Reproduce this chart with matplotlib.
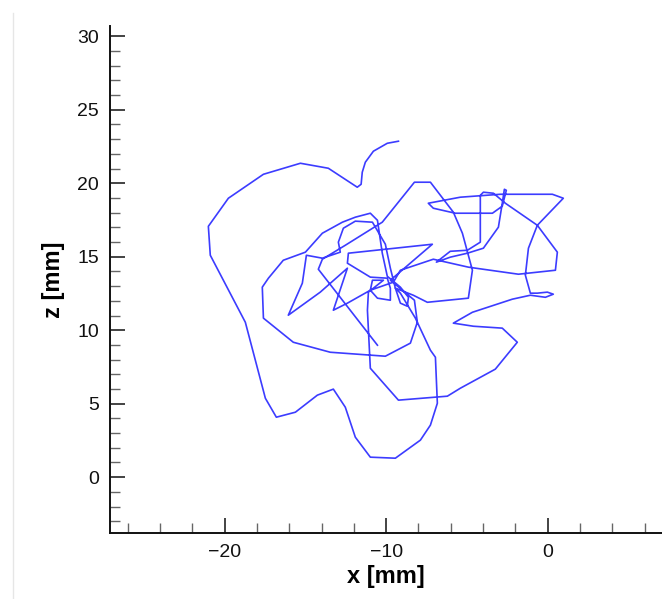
import matplotlib
matplotlib.use("Agg")
import matplotlib.pyplot as plt
from matplotlib.ticker import MultipleLocator
from matplotlib.lines import Line2D

plt.rcParams['font.family'] = ['Liberation Sans', 'DejaVu Sans']

# trajectory (x [mm], z [mm]), in drawing order
x_mm = [-9.24, -9.93, -10.79, -11.29, -11.48, -11.55, -11.79, -13.58, -15.31, -17.60,
        -19.77, -21.01, -20.89, -18.72, -17.48, -16.80, -15.62, -14.26, -13.27, -12.53,
        -11.91, -10.98, -9.43, -7.88, -7.26, -6.83, -6.95, -7.26, -8.19, -9.12,
        -9.43, -9.12, -8.69, -8.62, -9.12, -9.93,
        -10.24, -10.54, -10.98, -11.91, -12.71, -13.95, -15.00,
        -16.37, -17.29, -17.67, -17.60, -15.75, -13.46, -10.05, -8.50, -8.07, -8.25, -9.74,
        -7.14, -12.34, -12.40, -10.98, -9.93,
        -9.74, -9.74, -10.54, -10.98, -10.85, -10.17,
        -11.10, -11.16, -10.98, -9.24, -6.21, -5.41, -3.24, -1.88, -2.81, -4.60, -5.84,
        -4.66, -2.19, -1.07, -0.14, 0.35, -0.02, -0.64, -1.07, -1.38, -1.19, -0.64, 0.97,
        0.29, -2.93, -5.41, -7.39, -7.08, -5.72, -3.42, -2.81, -2.56, -2.68, -2.81, -3.05,
        -3.98, -4.97, -6.03, -6.89, -6.03, -4.97, -4.17, -4.17, -3.98, -3.36, -2.62, -0.64,
        0.60, 0.48, -1.81, -4.91, -7.08, -9.12,
        -9.55, -10.98, -12.40, -13.27, -12.40, -14.08, -16.06, -15.19, -14.94,
        -13.95, -12.84, -12.96, -12.65, -11.91, -10.85, -10.05, -9.74, -9.43,
        -8.32, -7.45, -4.91, -4.66, -5.28, -5.84, -7.26, -8.25, -10.24, -12.53, -13.95,
        -14.20, -10.54]
z_mm = [22.86, 22.72, 22.18, 21.43, 20.75, 19.93, 19.73, 21.02, 21.36, 20.61,
        18.98, 17.07, 15.10, 10.54, 5.37, 4.08, 4.42, 5.58, 5.99, 4.76,
        2.72, 1.36, 1.29, 2.52, 3.54, 5.03, 8.16, 8.64, 10.82, 12.52,
        12.86, 11.84, 11.63, 12.24, 12.93, 13.67,
        15.24, 17.48, 17.96, 17.69, 17.35, 16.60, 15.31,
        14.76, 13.54, 12.93, 10.82, 9.18, 8.50, 8.23, 9.12, 10.54, 12.04, 13.40,
        15.85, 15.24, 14.56, 13.61, 13.54,
        12.86, 12.04, 12.18, 12.72, 13.40, 13.40,
        12.59, 11.36, 7.41, 5.24, 5.51, 6.05, 7.35, 9.18, 10.14, 10.27, 10.48,
        11.22, 12.11, 12.38, 12.24, 12.45, 12.59, 12.52, 12.52, 13.74, 15.58, 17.14, 18.98,
        19.25, 19.25, 19.05, 18.64, 18.30, 17.96, 17.96, 18.44, 19.52, 19.59, 18.64, 17.01,
        15.58, 15.24, 14.97, 14.63, 15.37, 15.44, 15.99, 19.18, 19.39, 19.32, 18.64, 17.14,
        15.31, 14.08, 13.81, 14.29, 14.83, 14.08,
        13.27, 12.72, 11.84, 11.36, 14.22, 12.59, 11.02, 13.20, 15.10,
        14.90, 15.31, 15.99, 16.94, 17.42, 17.35, 15.85, 14.22, 12.86,
        12.38, 11.90, 12.18, 14.08, 16.60, 18.03, 20.07, 20.07, 17.35, 15.78, 14.83,
        14.15, 8.98]

x_major = [-20, -10, 0]
y_major = [0, 5, 10, 15, 20, 25, 30]

fig = plt.figure(figsize=(6.62, 5.99), dpi=100)
ax = fig.add_axes([110 / 662, 1 - 533 / 599, 552 / 662, 507 / 599])
ax.plot(x_mm, z_mm, color='#3c3cff', lw=1.2)

ax.set_xlim(-27.1, 7.08)
ax.set_ylim(-3.8, 30.7)
ax.set_xticks(x_major)
ax.set_yticks(y_major)
ax.xaxis.set_minor_locator(MultipleLocator(2))
ax.yaxis.set_minor_locator(MultipleLocator(1))
ax.tick_params(which='major', direction='in', length=11, width=1.1, labelsize=14, pad=8, colors='#111111')
ax.tick_params(which='minor', direction='in', length=7, width=1.0, color='#666666')
for s in ['top', 'right']:
    ax.spines[s].set_visible(False)
for s in ['left', 'bottom']:
    ax.spines[s].set_linewidth(1.4)
    ax.spines[s].set_color('#111111')

ax.set_xlabel('x [mm]', fontsize=17, fontweight='bold')
ax.set_ylabel('z [mm]', fontsize=17, fontweight='bold')
ax.xaxis.set_label_coords(0.5, -0.063)
ax.yaxis.set_label_coords(-0.081, 0.5)

fig.add_artist(Line2D([12.5 / 662, 12.5 / 662], [0, 1 - 13 / 599], transform=fig.transFigure,
                      color='#e6e6e6', lw=1.0))

fig.savefig('out.png', dpi=100)
